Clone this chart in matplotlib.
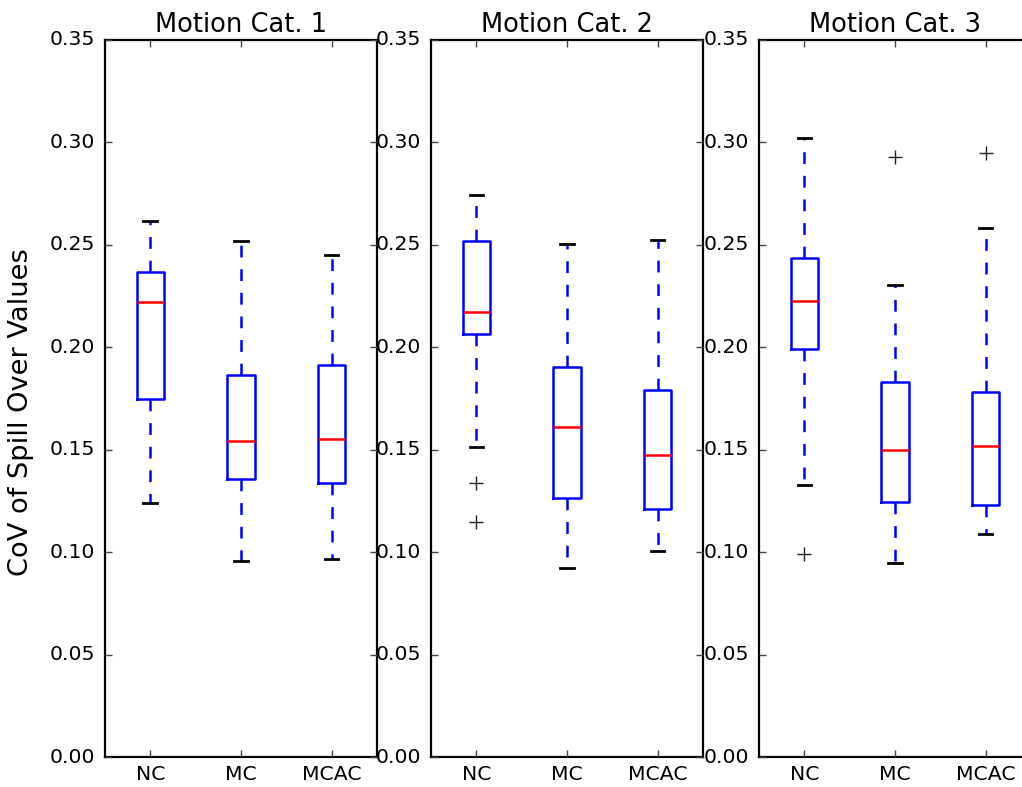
import matplotlib
matplotlib.use("Agg")
import matplotlib.pyplot as plt

plt.style.use("classic")

#Data: box statistics per motion category
methods = ["NC", "MC", "MCAC"]
titles = ["Motion Cat. 1", "Motion Cat. 2", "Motion Cat. 3"]

whislo = [[0.1238, 0.0958, 0.0967],
          [0.1514, 0.0925, 0.1008],
          [0.1328, 0.0945, 0.1089]]
q1 = [[0.1749, 0.1358, 0.1336],
      [0.2066, 0.1263, 0.1210],
      [0.1991, 0.1245, 0.1231]]
med = [[0.2223, 0.1544, 0.1550],
       [0.2174, 0.1613, 0.1474],
       [0.2227, 0.1498, 0.1516]]
q3 = [[0.2368, 0.1865, 0.1912],
      [0.2520, 0.1902, 0.1791],
      [0.2438, 0.1831, 0.1782]]
whishi = [[0.2614, 0.2518, 0.2451],
          [0.2742, 0.2505, 0.2524],
          [0.3023, 0.2306, 0.2581]]
fliers = [[[], [], []],
          [[0.1336, 0.1148], [], []],
          [[0.0990], [0.2930], [0.2946]]]

yticks = [0.00, 0.05, 0.10, 0.15, 0.20, 0.25, 0.30, 0.35]

#Figure and axes placement
fig = plt.figure(figsize=(10.22, 7.87), dpi=100, facecolor="white")
lefts = [0.1027, 0.4217, 0.7427]
bottom, height, width = 0.0381, 0.9111, 0.2661

for k in range(3):
    ax = fig.add_axes([lefts[k], bottom, width, height])
    ax.set_facecolor("white")
    stats = []
    for j in range(3):
        stats.append({
            "label": methods[j],
            "whislo": whislo[k][j],
            "q1": q1[k][j],
            "med": med[k][j],
            "q3": q3[k][j],
            "whishi": whishi[k][j],
            "fliers": fliers[k][j],
        })
    ax.bxp(stats, widths=0.3,
           boxprops=dict(color="blue", linewidth=1.8),
           whiskerprops=dict(color="blue", linestyle=(0, (8.5, 8.5)), linewidth=1.8),
           capprops=dict(color="black", linewidth=2.0),
           medianprops=dict(color="red", linewidth=1.8),
           flierprops=dict(marker="+", markeredgecolor="#222222",
                           markersize=10, markeredgewidth=1.0, linestyle="none"))
    ax.set_ylim(0, 0.35)
    ax.set_xlim(0.5, 3.5)
    ax.set_yticks(yticks)
    ax.set_yticklabels(["%.2f" % t for t in yticks])
    ax.tick_params(axis="both", labelsize=14.7, direction="in",
                   length=5, width=1.0, colors="#444444", labelcolor="black")
    ax.tick_params(axis="y", pad=7)
    ax.tick_params(axis="x", pad=6)
    for s in ax.spines.values():
        s.set_linewidth(1.6)
    ax.set_title(titles[k], fontsize=18.5, pad=6)
    if k == 0:
        ax.set_ylabel("CoV of Spill Over Values", fontsize=19.6)
        ax.yaxis.set_label_coords(-0.262, 0.481)

fig.savefig("out.png", dpi=100, facecolor="white")
